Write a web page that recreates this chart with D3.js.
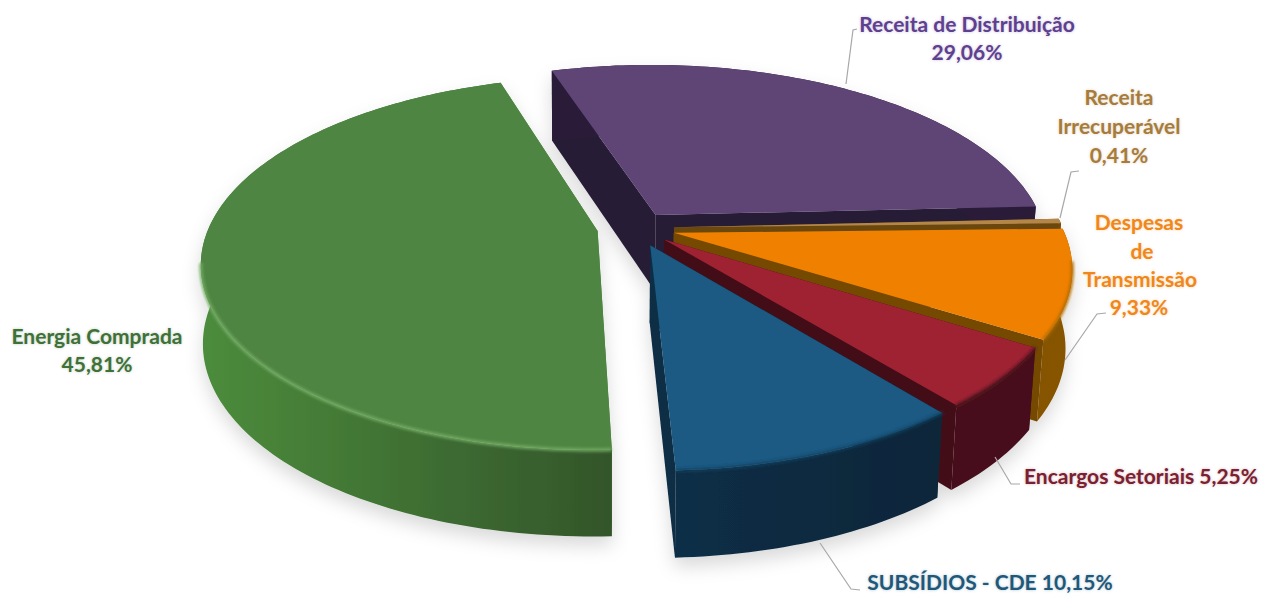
<!DOCTYPE html>
<html lang="pt-BR">
<head>
  <meta charset="UTF-8">
  <title>Composição da tarifa</title>
  <script src="https://d3js.org/d3.v7.min.js"></script>
  <style>
    body { margin: 0; background: #fff; font-family: Lato, "Open Sans", sans-serif; }
    svg { display: block; }
    .label { font-size: 21px; font-weight: 700; text-anchor: middle; }
    .leader { fill: none; stroke: #a8a8a8; stroke-width: 1.2; }
  </style>
</head>
<body>
  <script>
    // values, clockwise from the far left edge of the purple slice
    const categories = ["Receita de Distribuição", "Receita Irrecuperável", "Despesas de Transmissão", "Encargos Setoriais", "SUBSÍDIOS - CDE", "Energia Comprada"];
    const values = [29.06, 0.41, 9.33, 5.25, 10.15, 45.81];
    const valueLabels = ["29,06%", "0,41%", "9,33%", "5,25%", "10,15%", "45,81%"];

    const topColors = ["#5f4475", "#b4874a", "#f08000", "#9e2233", "#1a5a83", "#4f8542"];
    const wallColors = [["#2a1c38", "#2a1c38"], ["#6f4a10", "#6f4a10"], ["#7a4c02", "#875402"], ["#47101a", "#47101a"], ["#0d2f48", "#0b2639"], ["#4c8c3c", "#33552a"]];
    const rimColors = ["#5f4475", "#8a5c20", "#b06a00", "#5a1420", "#12405f", "#74ad66"];

    const explosion = [0.09, 0.098, 0.1, 0.095, 0.1, 0.1];

    // label lines and leader polylines (layout only)
    const labelLines = [
      [["Receita de Distribuição", 967, 25], ["29,06%", 967, 53]],
      [["Receita", 1119, 98], ["Irrecuperável", 1119, 127], ["0,41%", 1119, 156]],
      [["Despesas", 1139, 223], ["de", 1142, 252], ["Transmissão", 1140, 280], ["9,33%", 1139, 308]],
      [["Encargos Setoriais 5,25%", 1141, 477]],
      [["SUBSÍDIOS - CDE 10,15%", 990, 583]],
      [["Energia Comprada", 97, 337], ["45,81%", 97, 365]]
    ];
    const labelColors = ["#5f3f8f", "#a67c3d", "#f0871a", "#7a2030", "#1f5878", "#3f7038"];
    const leaders = [
      [[846, 84], [853, 30], [857, 29]],
      [[1060, 218], [1071, 172], [1079, 171]],
      [[1065, 360], [1097, 314], [1106, 313]],
      [[995, 457], [1011, 484], [1020, 484]],
      [[820, 543], [851, 589], [860, 590]],
      []
    ];

    const width = 1276, height = 597;
    const svg = d3.select("body").append("svg").attr("width", width).attr("height", height);
    const defs = svg.append("defs");

    const shadow = defs.append("filter").attr("id", "shadow")
      .attr("x", "-10%").attr("y", "-10%").attr("width", "120%").attr("height", "125%");
    shadow.append("feDropShadow").attr("dx", 0).attr("dy", 9).attr("stdDeviation", 9)
      .attr("flood-color", "#000").attr("flood-opacity", 0.15);
    defs.append("filter").attr("id", "soft").append("feGaussianBlur").attr("stdDeviation", 1.4);

    // perspective plane: X to the right, Y towards the viewer, both in radius units
    const R = 389, K = 180, D = 5.8, cx = 636, cy = 228, vx = 620;
    const project = (X, Y) => {
      const s = 1 / (1 - Y / D);
      return { x: vx + (cx - vx + R * X) * s, y: cy + K * Y * s, s };
    };
    const upper = p => [p.x, p.y];
    const lower = p => [620 + (p.x - 620) * (p.x < 620 ? 0.995 : 0.985), p.y + 77 * Math.pow(p.s, 0.6)];

    const pie = d3.pie().sort(null)
      .startAngle(342.6 * Math.PI / 180)
      .endAngle((342.6 + 360) * Math.PI / 180);
    const arcs = pie(values);
    const line = d3.line();

    const slices = arcs.map((a, i) => {
      const mid = (a.startAngle + a.endAngle) / 2;
      const ox = Math.sin(mid) * explosion[i], oy = -Math.cos(mid) * explosion[i];
      const steps = Math.max(2, Math.ceil((a.endAngle - a.startAngle) / 0.02));
      const rim = d3.range(steps + 1).map(k => {
        const t = a.startAngle + (a.endAngle - a.startAngle) * k / steps;
        return project(ox + Math.sin(t), oy - Math.cos(t));
      });
      return { i, apex: project(ox, oy), rim };
    });

    const pieGroup = svg.append("g").attr("filter", "url(#shadow)");

    // painter's order: purple at the back, then round to blue; green stands alone
    slices.forEach(sl => {
      const { i, apex, rim } = sl;
      const g = pieGroup.append("g");
      const xs = rim.map(p => p.x).concat(apex.x);
      const grad = defs.append("linearGradient").attr("id", "wall" + i)
        .attr("gradientUnits", "userSpaceOnUse")
        .attr("x1", d3.min(xs)).attr("x2", d3.max(xs)).attr("y1", 0).attr("y2", 0);
      grad.append("stop").attr("offset", 0).attr("stop-color", wallColors[i][0]);
      grad.append("stop").attr("offset", 1).attr("stop-color", wallColors[i][1]);

      const first = rim[0], last = rim[rim.length - 1];
      const wall = pts => g.append("path").attr("d", line(pts) + "Z").attr("fill", `url(#wall${i})`);
      const radial = (p, q) => g.append("path")
        .attr("d", line([upper(p), upper(q), lower(q), lower(p)]) + "Z")
        .attr("fill", d3.color(wallColors[i][0]).darker(0.15));

      radial(apex, first);
      radial(apex, last);
      wall(rim.map(upper).concat(rim.map(lower).reverse()));

      g.append("path").attr("d", line([upper(apex)].concat(rim.map(upper))) + "Z")
        .attr("fill", topColors[i]);
      // the soft bevel only shows on the near half of the rim
      g.append("path").attr("d", line(rim.filter(p => p.s > 1.03).map(upper)))
        .attr("fill", "none").attr("stroke", rimColors[i]).attr("stroke-width", 3)
        .attr("filter", "url(#soft)");
    });

    svg.selectAll(".leader").data(leaders).join("path")
      .attr("class", "leader")
      .attr("d", d => d.length ? line(d) : null);

    labelLines.forEach((lines, i) => {
      svg.selectAll(null).data(lines).join("text")
        .attr("class", "label")
        .attr("x", d => d[1]).attr("y", d => d[2])
        .attr("dy", "0.35em")
        .attr("fill", labelColors[i])
        .style("text-shadow", `0 0 3px ${d3.color(labelColors[i]).copy({ opacity: 0.35 })}`)
        .text(d => d[0]);
    });
  </script>
</body>
</html>
